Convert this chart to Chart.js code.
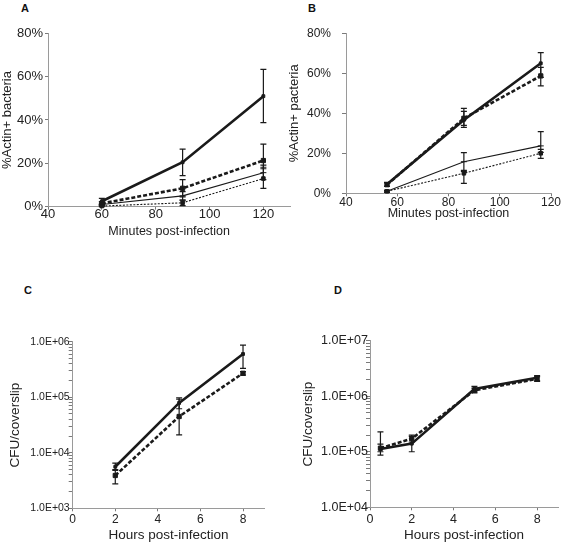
<!DOCTYPE html>
<html><head><meta charset="utf-8">
<script src="https://cdn.jsdelivr.net/npm/chart.js@4.4.1/dist/chart.umd.min.js"></script>
<style>
html,body{margin:0;padding:0;background:#fff;}
body{width:563px;height:546px;position:relative;overflow:hidden;font-family:"Liberation Sans",Arial,sans-serif;}
canvas{position:absolute;}
.lbl{position:absolute;font-weight:bold;font-size:11px;color:#111;line-height:11px;}
</style></head><body>
<div class="lbl" style="left:21px;top:3px">A</div>
<div class="lbl" style="left:308px;top:3px">B</div>
<div class="lbl" style="left:24px;top:285px">C</div>
<div class="lbl" style="left:334px;top:285px">D</div>
<canvas id="cA" width="300" height="239" style="left:0px;top:0px"></canvas>
<canvas id="cB" width="276" height="221" style="left:287px;top:0px"></canvas>
<canvas id="cC" width="273" height="243" style="left:7px;top:300px"></canvas>
<canvas id="cD" width="263" height="243" style="left:300px;top:300px"></canvas>
<script>
// ---------- DATA ----------
// Panel A
const minutesA = [60, 90, 120];
const aThick = [2.5, 20.5, 51.0], aThickLo = [1.0, 14.3, 38.8], aThickHi = [3.8, 26.6, 63.4];
const aDash  = [1.5, 8.5, 21.3],  aDashLo  = [0.8, 4.5, 17.5],  aDashHi  = [2.3, 12.5, 28.9];
const aThin  = [1.0, 5.0, 15.7],  aThinLo  = [0.5, 3.0, 12.5],  aThinHi  = [1.5, 7.0, 19.2];
const aDot   = [0.3, 1.8, 13.0],  aDotLo   = [0.0, 0.5, 8.5],   aDotHi   = [0.6, 3.0, 18.2];
const ticksMinA = [40, 60, 80, 100, 120];
// Panel B
const minutesB = [56, 86, 116];
const bThick = [4.5, 36.7, 65.0], bThickLo = [3.5, 34.0, 58.0], bThickHi = [5.5, 42.5, 70.3];
const bDash  = [4.3, 37.5, 58.7], bDashLo  = [3.5, 33.0, 53.7], bDashHi  = [5.2, 41.0, 63.0];
const bThin  = [1.0, 15.8, 23.7], bThinLo  = [0.5, 11.0, 20.5], bThinHi  = [1.5, 20.3, 30.8];
const bDot   = [1.0, 10.0, 20.0], bDotLo   = [0.5, 5.0, 17.5],  bDotHi   = [1.5, 11.5, 22.0];
const ticksMinB = [40, 60, 80, 100, 120];
const ticksPct = [0, 20, 40, 60, 80];
// Panel C
const hoursC = [2, 5, 8];
const cSolid = [5600, 79000, 600000], cSolidLo = [4800, 62000, 330000], cSolidHi = [6500, 97000, 870000];
const cDash  = [3900, 45000, 270000], cDashLo  = [2750, 21000, 250000], cDashHi  = [5000, 92000, 290000];
const decadesC = [1e3, 1e4, 1e5, 1e6];
// Panel D
const hoursD = [0.5, 2, 5, 8];
const dSolid = [112000, 140000, 1350000, 2150000], dSolidLo = [87000, 100000, 1200000, 1900000], dSolidHi = [229000, 190000, 1500000, 2350000];
const dDash  = [116000, 172000, 1280000, 2050000], dDashLo  = [100000, 150000, 1150000, 1850000], dDashHi  = [137000, 200000, 1400000, 2250000];
const decadesD = [1e4, 1e5, 1e6, 1e7];
const ticksHours = [0, 2, 4, 6, 8];
const minorSteps = [1, 2, 3, 4, 5, 6, 7, 8, 9];

// ---------- HELPERS ----------
const FONT = '"Liberation Sans", Arial, sans-serif';
const INK = '#1a1a1a', AXIS = '#9a9a9a', TICK = '#7a7a7a', TXT = '#222';

const errorBars = {
  id: 'errorBars',
  afterDatasetsDraw(chart) {
    const ctx = chart.ctx, xs = chart.scales.x, ys = chart.scales.y;
    chart.data.datasets.forEach((ds) => {
      if (!ds.errLo) return;
      ctx.save();
      ctx.strokeStyle = INK; ctx.lineWidth = 1.2; ctx.setLineDash([]);
      ds.data.forEach((p, j) => {
        const lo = ds.errLo[j], hi = ds.errHi[j];
        if (lo == null || hi == null) return;
        const x = xs.getPixelForValue(p.x);
        const y1 = ys.getPixelForValue(Math.max(lo, ys.min));
        const y2 = ys.getPixelForValue(hi);
        ctx.beginPath();
        ctx.moveTo(x, y1); ctx.lineTo(x, y2);
        ctx.moveTo(x - 3, y1); ctx.lineTo(x + 3, y1);
        ctx.moveTo(x - 3, y2); ctx.lineTo(x + 3, y2);
        ctx.stroke();
      });
      ctx.restore();
    });
  }
};

function series(xs, ys, lo, hi, style) {
  return Object.assign({
    data: xs.map((x, i) => ({x: x, y: ys[i]})),
    errLo: lo, errHi: hi,
    borderColor: INK, backgroundColor: INK,
    pointBackgroundColor: INK, pointBorderColor: INK,
    tension: 0, fill: false, clip: false
  }, style);
}
const S_THICK = {borderWidth: 2.6, pointStyle: 'rect', pointRadius: 2, pointBorderWidth: 1};
const S_DASH  = {borderWidth: 2.6, borderDash: [4, 2], pointStyle: 'rect', pointRadius: 3, pointBorderWidth: 1};
const S_THIN  = {borderWidth: 1.1, pointStyle: 'line', pointRadius: 3, pointBorderWidth: 1};
const S_DOT   = {borderWidth: 1.1, borderDash: [2, 1.5], pointStyle: 'rect', pointRadius: 2.5, pointBorderWidth: 1};

function logLabel(v) {
  const e = Math.log10(v);
  if (Math.abs(e - Math.round(e)) < 1e-9) return '1.0E+' + String(Math.round(e)).padStart(2, '0');
  return '';
}
function logTicks(decades) {
  const out = [];
  decades.slice(0, -1).forEach(d => minorSteps.forEach(m => out.push(m * d)));
  out.push(decades[decades.length - 1]);
  return out;
}

function panel(id, box, area, xo, yo, datasets) {
  const cfg = {
    type: 'line',
    data: {datasets: datasets},
    plugins: [errorBars],
    options: {
      responsive: false, animation: false, events: [],
      layout: {padding: {left: 0, top: area.top - box.top, right: box.left + box.width - area.right, bottom: 0}},
      plugins: {legend: {display: false}, tooltip: {enabled: false}, title: {display: false}},
      scales: {
        x: {
          type: 'linear', min: xo.min, max: xo.max,
          afterBuildTicks: (s) => { s.ticks = xo.ticks.map(v => ({value: v})); },
          afterFit: (s) => { s.height = box.top + box.height - area.bottom; },
          border: {display: true, color: AXIS, width: 1},
          grid: {drawOnChartArea: false, drawTicks: true, tickLength: xo.tl, color: TICK, lineWidth: 1},
          ticks: {color: TXT, padding: xo.pad, maxRotation: 0, autoSkip: false,
                  font: {family: FONT, size: xo.fs, lineHeight: 1}},
          title: {display: true, text: xo.title, color: TXT, padding: 0,
                  font: {family: FONT, size: xo.tfs, lineHeight: 1.2}}
        },
        y: {
          type: yo.type, min: yo.min, max: yo.max,
          afterBuildTicks: (s) => { s.ticks = yo.ticksList.map(v => ({value: v})); },
          afterFit: (s) => { s.width = area.left - box.left; },
          border: {display: true, color: AXIS, width: 1},
          grid: {drawOnChartArea: false, drawTicks: true, tickLength: yo.tl, color: TICK, lineWidth: 1},
          ticks: Object.assign({color: TXT, padding: yo.pad, autoSkip: false,
                  font: {family: FONT, size: yo.fs, lineHeight: 1}}, yo.tickExtra || {}),
          title: {display: true, text: yo.title, color: TXT, padding: 0,
                  font: {family: FONT, size: yo.tfs, lineHeight: 1.2}}
        }
      }
    }
  };
  return new Chart(document.getElementById(id), cfg);
}

// ---------- PANEL A ----------
panel('cA', {left: 0, top: 0, width: 300, height: 239}, {left: 48, top: 33.3, right: 290.3, bottom: 206.7},
  {min: 40, max: 130, ticks: ticksMinA, tl: 3, pad: -2, fs: 13, tfs: 12.5, title: 'Minutes post-infection'},
  {type: 'linear', min: 0, max: 80, ticksList: ticksPct, tl: 3, pad: 2, fs: 13, tfs: 13, title: '%Actin+ bacteria',
   tickExtra: {callback: (v) => v + '%'}},
  [series(minutesA, aThick, aThickLo, aThickHi, S_THICK),
   series(minutesA, aDash, aDashLo, aDashHi, S_DASH),
   series(minutesA, aThin, aThinLo, aThinHi, S_THIN),
   series(minutesA, aDot, aDotLo, aDotHi, S_DOT)]);

// ---------- PANEL B ----------
panel('cB', {left: 287, top: 0, width: 276, height: 221}, {left: 346, top: 33.3, right: 551, bottom: 193.3},
  {min: 40, max: 120, ticks: ticksMinB, tl: 3, pad: 0, fs: 12, tfs: 12.5, title: 'Minutes post-infection'},
  {type: 'linear', min: 0, max: 80, ticksList: ticksPct, tl: 4, pad: 11, fs: 12, tfs: 13, title: '%Actin+ pacteria',
   tickExtra: {callback: (v) => v + '%'}},
  [series(minutesB, bThick, bThickLo, bThickHi, S_THICK),
   series(minutesB, bDash, bDashLo, bDashHi, S_DASH),
   series(minutesB, bThin, bThinLo, bThinHi, S_THIN),
   series(minutesB, bDot, bDotLo, bDotHi, S_DOT)]);

// ---------- PANEL C ----------
panel('cC', {left: 7, top: 300, width: 273, height: 243}, {left: 72.7, top: 341.7, right: 264.3, bottom: 508.3},
  {min: 0, max: 9, ticks: ticksHours, tl: 3, pad: 2, fs: 12, tfs: 13.5, title: 'Hours post-infection'},
  {type: 'logarithmic', min: 1000, max: 1000000, ticksList: logTicks(decadesC), tl: 4, pad: -1, fs: 10.5, tfs: 13.5,
   title: 'CFU/coverslip', tickExtra: {callback: logLabel}},
  [series(hoursC, cSolid, cSolidLo, cSolidHi, S_THICK),
   series(hoursC, cDash, cDashLo, cDashHi, S_DASH)]);

// ---------- PANEL D ----------
panel('cD', {left: 300, top: 300, width: 263, height: 243}, {left: 370, top: 340.7, right: 559.4, bottom: 507.3},
  {min: 0, max: 9, ticks: ticksHours, tl: 3, pad: 3, fs: 12.5, tfs: 13.5, title: 'Hours post-infection'},
  {type: 'logarithmic', min: 10000, max: 10000000, ticksList: logTicks(decadesD), tl: 4, pad: -2, fs: 12.5, tfs: 13.5,
   title: 'CFU/coverslip', tickExtra: {callback: logLabel}},
  [series(hoursD, dSolid, dSolidLo, dSolidHi, S_THICK),
   series(hoursD, dDash, dDashLo, dDashHi, S_DASH)]);
</script>
</body></html>
